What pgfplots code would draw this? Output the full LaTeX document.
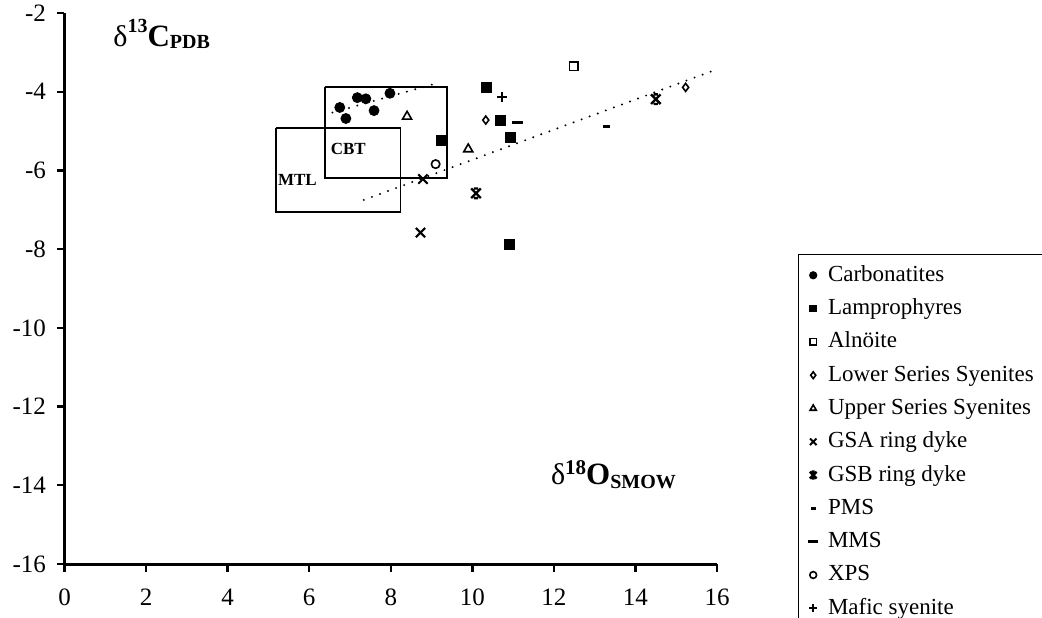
\documentclass[border=0pt]{standalone}
\usepackage{fontspec}
\setmainfont{Liberation Serif}
\usepackage{pgfplots}
\pgfplotsset{compat=1.18}

% x with short bars top and bottom (GSB ring dyke)
\pgfdeclareplotmark{gsb}{%
  \pgfpathmoveto{\pgfqpoint{-\pgfplotmarksize}{-\pgfplotmarksize}}%
  \pgfpathlineto{\pgfqpoint{\pgfplotmarksize}{\pgfplotmarksize}}%
  \pgfpathmoveto{\pgfqpoint{-\pgfplotmarksize}{\pgfplotmarksize}}%
  \pgfpathlineto{\pgfqpoint{\pgfplotmarksize}{-\pgfplotmarksize}}%
  \pgfpathmoveto{\pgfqpoint{-0.45\pgfplotmarksize}{\pgfplotmarksize}}%
  \pgfpathlineto{\pgfqpoint{0.45\pgfplotmarksize}{\pgfplotmarksize}}%
  \pgfpathmoveto{\pgfqpoint{-0.45\pgfplotmarksize}{-\pgfplotmarksize}}%
  \pgfpathlineto{\pgfqpoint{0.45\pgfplotmarksize}{-\pgfplotmarksize}}%
  \pgfusepathqstroke}

\pgfplotsset{
  legmark/.style={legend image code/.code={\draw[##1,mark size=#1] plot coordinates {(0pt,0pt)};}},
  dots/.style={forget plot, line width=1.1pt, line cap=round, dash pattern=on 0pt off 4.3pt},
  box/.style={forget plot, line width=0.9pt, line join=miter},
}

\begin{document}
\begin{tikzpicture}
\useasboundingbox (-32.25pt,-26.5pt) rectangle (488.75pt,282pt);
\begin{axis}[
  at={(0pt,0pt)}, anchor=south west,
  scale only axis, width=326.25pt, height=275.5pt,
  xmin=0, xmax=16, ymin=-16, ymax=-2,
  axis lines*=left,
  axis line style={line width=1.5pt},
  xtick={0,2,...,16}, ytick={-16,-14,...,-2},
  tick align=outside,
  major tick length=3.8pt,
  tick style={line width=1.2pt, black},
  tick label style={font=\fontsize{12.5}{14}\selectfont},
  /pgf/number format/assume math mode=true,
  xticklabel style={yshift=-5pt},
  yticklabel style={xshift=-2pt},
  clip=false,
  legend cell align=left,
  legend style={at={(rel axis cs:1.124,0.563)}, anchor=north west,
    draw=black, line width=0.5pt, font=\fontsize{11.5}{13}\selectfont,
    inner xsep=5pt, inner ysep=4.5pt, row sep=4.65pt,
    nodes={inner sep=0pt, text height=9pt, text depth=3pt},
    /tikz/every odd column/.append style={column sep=5pt}},
]
% reference fields and trend lines
\addplot[box] coordinates {(6.38,-3.87) (9.37,-3.87) (9.37,-6.20) (6.38,-6.20) (6.38,-3.87)};
\addplot[box] coordinates {(5.18,-4.93) (8.24,-4.93) (8.24,-7.05) (5.18,-7.05) (5.18,-4.93)};
\addplot[dots] coordinates {(6.57,-4.53) (9.11,-3.79)};
\addplot[dots] coordinates {(7.34,-6.75) (16.0,-3.43)};

\addplot[only marks, mark=*, mark size=2.5pt, legmark=1.8pt] coordinates {
  (6.75,-4.40) (6.90,-4.68) (7.18,-4.15) (7.39,-4.18) (7.59,-4.48) (7.98,-4.04)};
\addlegendentry{Carbonatites}
\addplot[only marks, mark=square*, mark size=2.5pt, legmark=1.7pt] coordinates {
  (10.35,-3.89) (10.69,-4.72) (10.94,-5.17) (9.25,-5.24) (10.90,-7.87)};
\addlegendentry{Lamprophyres}
\addplot[only marks, mark=square, mark size=2.2pt, line width=0.8pt, legmark=1.6pt] coordinates {
  (12.49,-3.35)};
\addlegendentry{Alnöite}
\addplot[only marks, mark=diamond, mark size=2pt, line width=0.8pt, legmark=1.7pt] coordinates {
  (10.33,-4.72) (15.23,-3.89)};
\addlegendentry{Lower Series Syenites}
\addplot[only marks, mark=triangle, mark size=2.6pt, line width=0.8pt, legmark=1.8pt] coordinates {
  (8.40,-4.63) (9.90,-5.46)};
\addlegendentry{Upper Series Syenites}
\addplot[only marks, mark=x, mark size=3.3pt, line width=1pt, legmark=2.3pt] coordinates {
  (8.79,-6.22) (8.73,-7.58)};
\addlegendentry{GSA ring dyke}
\addplot[only marks, mark=gsb, mark size=2.4pt, line width=1.2pt, legmark=1.7pt] coordinates {
  (10.09,-6.58) (14.50,-4.19)};
\addlegendentry{GSB ring dyke}
\addplot[only marks, mark=-, mark size=1.75pt, line width=1.5pt, legmark=1.3pt] coordinates {
  (13.29,-4.89)};
\addlegendentry{PMS}
\addplot[only marks, mark=-, mark size=2.75pt, line width=1.5pt, legmark=2.4pt] coordinates {
  (11.10,-4.77)};
\addlegendentry{MMS}
\addplot[only marks, mark=o, mark size=2.1pt, line width=0.8pt, legmark=1.7pt] coordinates {
  (9.10,-5.84)};
\addlegendentry{XPS}
\addplot[only marks, mark=+, mark size=2.5pt, line width=0.9pt, legmark=1.9pt] coordinates {
  (10.73,-4.13)};
\addlegendentry{Mafic syenite}

\node[font=\fontsize{8.5}{9}\selectfont\bfseries] at (axis cs:6.96,-5.46) {CBT};
\node[font=\fontsize{8.5}{9}\selectfont\bfseries] at (axis cs:5.71,-6.23) {MTL};

\node[anchor=base west, inner sep=0pt] at (axis cs:1.19,-2.84)
  {{\fontsize{15}{16}\selectfont δ}\raisebox{7pt}{\fontsize{10}{11}\selectfont\bfseries 13}{\fontsize{15.5}{16}\selectfont\bfseries C}\raisebox{-1pt}{\fontsize{10}{11}\selectfont\bfseries PDB}};
\node[anchor=base west, inner sep=0pt] at (axis cs:11.92,-13.99)
  {{\fontsize{15}{16}\selectfont δ}\raisebox{5.4pt}{\fontsize{10.5}{11}\selectfont\bfseries 18}{\fontsize{15.5}{16}\selectfont\bfseries O}\raisebox{-2pt}{\fontsize{10}{11}\selectfont\bfseries SMOW}};
\end{axis}
\end{tikzpicture}
\end{document}
